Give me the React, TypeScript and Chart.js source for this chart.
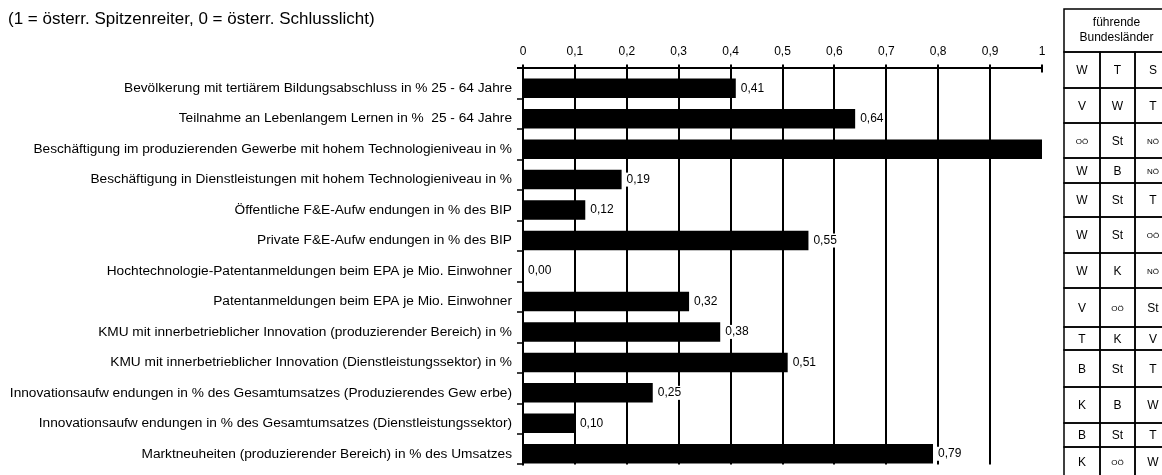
import React, { useEffect, useRef } from "react";
import { Chart, registerables } from "chart.js";

Chart.register(...registerables);

// ---------- data ----------
const TITLE = "(1 = österr. Spitzenreiter, 0 = österr. Schlusslicht)";

const categories = [
  "Bevölkerung mit tertiärem Bildungsabschluss in % 25 - 64 Jahre",
  "Teilnahme an Lebenlangem Lernen in %  25 - 64 Jahre",
  "Beschäftigung im produzierenden Gewerbe mit hohem Technologieniveau in %",
  "Beschäftigung in Dienstleistungen mit hohem Technologieniveau in %",
  "Öffentliche F&E-Aufw endungen in % des BIP",
  "Private F&E-Aufw endungen in % des BIP",
  "Hochtechnologie-Patentanmeldungen beim EPA je Mio. Einwohner",
  "Patentanmeldungen beim EPA je Mio. Einwohner",
  "KMU mit innerbetrieblicher Innovation (produzierender Bereich) in %",
  "KMU mit innerbetrieblicher Innovation (Dienstleistungssektor) in %",
  "Innovationsaufw endungen in % des Gesamtumsatzes (Produzierendes Gew erbe)",
  "Innovationsaufw endungen in % des Gesamtumsatzes (Dienstleistungssektor)",
  "Marktneuheiten (produzierender Bereich) in % des Umsatzes",
];

const values = [0.41, 0.64, 1.0, 0.19, 0.12, 0.55, 0.0, 0.32, 0.38, 0.51, 0.25, 0.1, 0.79];

const tickLabels = ["0", "0,1", "0,2", "0,3", "0,4", "0,5", "0,6", "0,7", "0,8", "0,9", "1"];

const tableHeader = ["führende", "Bundesländer"];
const leaders1 = ["W", "V", "OÖ", "W", "W", "W", "W", "V", "T", "B", "K", "B", "K"];
const leaders2 = ["T", "W", "St", "B", "St", "St", "K", "OÖ", "K", "St", "B", "St", "OÖ"];
const leaders3 = ["S", "T", "NÖ", "NÖ", "T", "OÖ", "NÖ", "St", "V", "T", "W", "T", "W"];

// ---------- layout / style ----------
const FONT = '"Liberation Sans", Arial, sans-serif';
const TABLE_COLS = [1064, 1100, 1135, 1171];
const TABLE_TOP = 9;
const TABLE_HEADER_H = 43;
const TABLE_ROW_H = [36, 35, 35, 25, 34, 36, 35, 39, 23, 37, 36, 24, 30];
const BAR_SHIFT = 0.15; // bars sit low inside their category band

// axis frame, grid lines and category tick marks (drawn from the chart's scales)
const framePlugin = {
  id: "frame",
  beforeDatasetsDraw(chart: any) {
    const ctx = chart.ctx;
    const { left, top, bottom } = chart.chartArea;
    const xs = chart.scales.x;
    const n = categories.length;
    const catH = (bottom - top) / n;
    const shift = catH * BAR_SHIFT;
    const axisY = top - shift;
    const endY = bottom - shift;
    ctx.save();
    ctx.strokeStyle = "#000";
    ctx.lineWidth = 2;
    ctx.beginPath();
    xs.ticks.forEach((t: any) => {
      const x = Math.round(xs.getPixelForValue(t.value));
      if (t.value <= 0) return;
      if (t.value >= 1) {
        ctx.moveTo(x, axisY - 4);
        ctx.lineTo(x, axisY + 4);
      } else {
        ctx.moveTo(x, axisY - 4);
        ctx.lineTo(x, endY);
      }
    });
    const x1 = Math.round(xs.getPixelForValue(1));
    ctx.moveTo(left - 6, Math.round(axisY));
    ctx.lineTo(x1 + 1, Math.round(axisY));
    ctx.moveTo(Math.round(left), axisY - 4);
    ctx.lineTo(Math.round(left), endY + 1);
    ctx.stroke();
    ctx.lineWidth = 1.5;
    ctx.beginPath();
    for (let i = 0; i <= n; i++) {
      const y = Math.round(axisY + i * catH);
      ctx.moveTo(left - 6, y);
      ctx.lineTo(left, y);
    }
    ctx.stroke();
    ctx.restore();
  },
};

const valueLabelPlugin = {
  id: "valueLabels",
  afterDatasetsDraw(chart: any) {
    const ctx = chart.ctx;
    const meta = chart.getDatasetMeta(0);
    ctx.save();
    ctx.font = `12px ${FONT}`;
    ctx.textBaseline = "middle";
    ctx.textAlign = "left";
    meta.data.forEach((bar: any, i: number) => {
      const v = values[i];
      if (v >= 1) return;
      const txt = v.toFixed(2).replace(".", ",");
      const w = ctx.measureText(txt).width;
      const x = bar.x + 5;
      const y = bar.y;
      ctx.fillStyle = "#fff";
      ctx.fillRect(x - 1, y - 7, w + 2, 14);
      ctx.fillStyle = "#000";
      ctx.fillText(txt, x, y);
    });
    ctx.restore();
  },
};

const tablePlugin = {
  id: "leaderTable",
  afterDraw(chart: any) {
    const ctx = chart.ctx;
    ctx.save();
    ctx.strokeStyle = "#000";
    ctx.lineWidth = 1.5;
    const left = TABLE_COLS[0];
    const right = TABLE_COLS[TABLE_COLS.length - 1];
    let y = TABLE_TOP;
    ctx.strokeRect(left, y, right - left, TABLE_HEADER_H);
    ctx.fillStyle = "#000";
    ctx.textAlign = "center";
    ctx.textBaseline = "middle";
    ctx.font = `12px ${FONT}`;
    const hc = (left + right) / 2 - 1;
    ctx.fillText(tableHeader[0], hc, y + 14);
    ctx.fillText(tableHeader[1], hc, y + 29);
    y += TABLE_HEADER_H;
    const cols = [leaders1, leaders2, leaders3];
    TABLE_ROW_H.forEach((h, r) => {
      for (let c = 0; c < 3; c++) {
        const x0 = TABLE_COLS[c];
        const x1 = TABLE_COLS[c + 1];
        ctx.strokeRect(x0, y, x1 - x0, h);
        const txt = cols[c][r];
        const small = txt.indexOf("Ö") >= 0;
        ctx.font = small ? `8px ${FONT}` : `12px ${FONT}`;
        ctx.fillText(txt, (x0 + x1) / 2, y + h / 2 + 1);
      }
      y += h;
    });
    ctx.restore();
  },
};

export default function App() {
  const ref = useRef<HTMLCanvasElement | null>(null);
  useEffect(() => {
    if (!ref.current) return;
    const chart = new Chart(ref.current, {
      type: "bar",
      data: {
        labels: categories,
        datasets: [
          {
            data: values,
            backgroundColor: "#000",
            borderWidth: 0,
            barPercentage: 0.64,
            categoryPercentage: 1,
          },
        ],
      },
      options: {
        indexAxis: "y",
        animation: false,
        responsive: true,
        maintainAspectRatio: false,
        layout: { padding: { left: 8, right: 120, top: 0, bottom: 6 } },
        plugins: {
          legend: { display: false },
          tooltip: { enabled: false },
          title: {
            display: true,
            text: TITLE,
            align: "start",
            color: "#000",
            font: { family: FONT, size: 17, weight: "normal" },
            padding: { top: 9, bottom: 4 },
          },
        },
        scales: {
          x: {
            position: "top",
            min: 0,
            max: 1,
            ticks: {
              stepSize: 0.1,
              color: "#000",
              font: { family: FONT, size: 12 },
              padding: 14,
              maxRotation: 0,
              callback: (_v: any, i: number) => tickLabels[i],
            },
            grid: { display: true, drawOnChartArea: false, drawTicks: false },
            border: { display: false },
            afterFit: (s: any) => {
              s.height = 39.6;
            },
          },
          y: {
            ticks: {
              color: "#000",
              font: { family: FONT, size: 13.7 },
              padding: 11,
              autoSkip: false,
            },
            grid: { display: false, drawTicks: false },
            border: { display: false },
            afterFit: (s: any) => {
              s.width = 515;
              s.paddingTop = 0;
              s.paddingBottom = 0;
            },
          },
        },
      },
      plugins: [framePlugin, valueLabelPlugin, tablePlugin],
    });
    return () => chart.destroy();
  }, []);

  return (
    <div style={{ position: "absolute", left: 0, top: 0, width: 1162, height: 475, background: "#fff" }}>
      <canvas ref={ref} />
    </div>
  );
}
